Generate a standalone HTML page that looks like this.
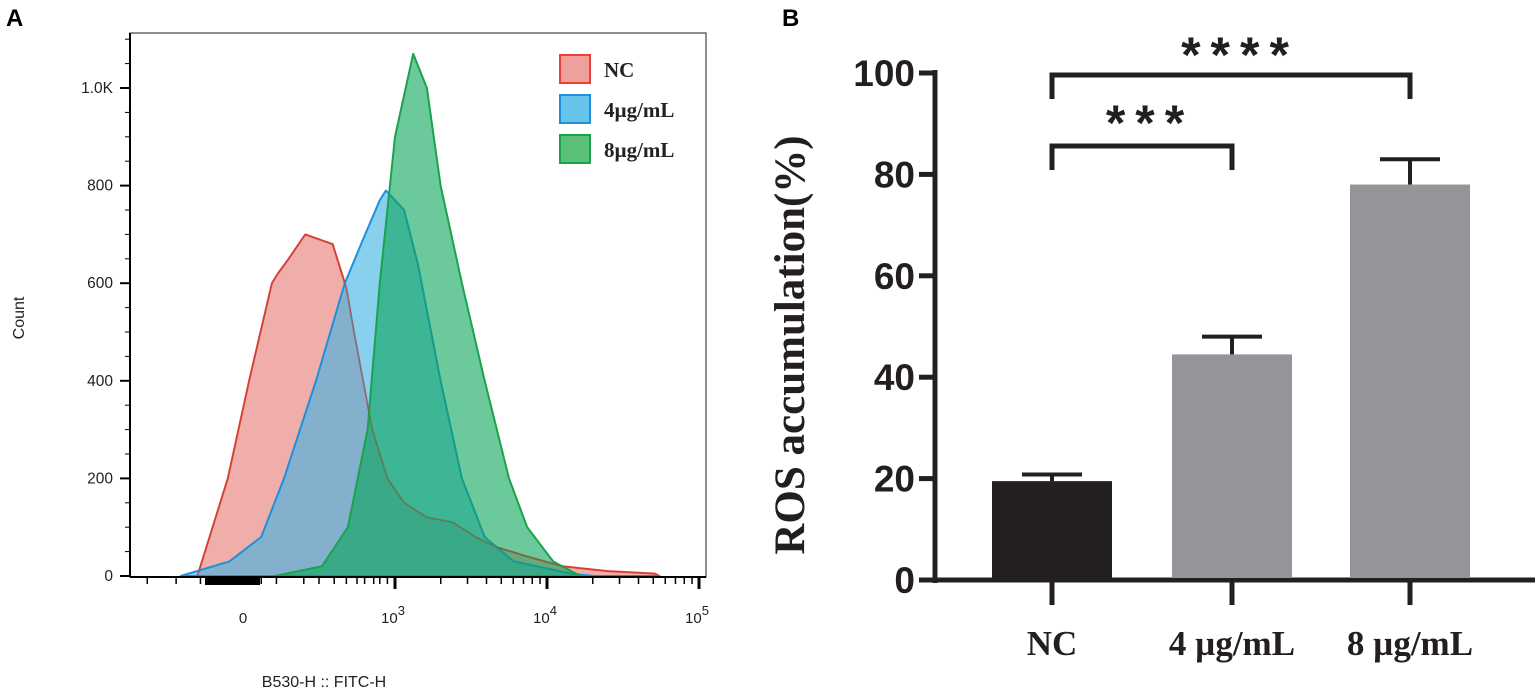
<!DOCTYPE html>
<html><head><meta charset="utf-8"><style>
html,body{margin:0;padding:0;background:#fff;}
svg{display:block;}
</style></head><body>
<svg id="fig" width="1535" height="695" viewBox="0 0 1535 695" xmlns="http://www.w3.org/2000/svg">
<text x="6" y="26" font-family="Liberation Sans, sans-serif" font-weight="bold" font-size="24">A</text>
<text x="782" y="26" font-family="Liberation Sans, sans-serif" font-weight="bold" font-size="24">B</text>
<g id="histo"></g>
<g id="bars"></g>
</svg>
<script>
// ---------- Panel A data (x in display decades: 2 = "0", 3 = 10^3 ...) ----------
const ncX = [1.70,1.90,2.04,2.19,2.23,2.30,2.41,2.59,2.68,2.73,2.79,2.85,2.95,3.06,3.21,3.38,3.53,3.66,3.87,4.10,4.40,4.71,4.74];
const ncY = [0,200,400,600,620,650,700,680,590,500,400,300,200,150,120,110,80,60,40,20,10,5,0];
const b4X = [1.59,1.91,2.12,2.27,2.48,2.67,2.79,2.90,2.94,3.06,3.15,3.30,3.44,3.59,3.78,4.16,4.31];
const b4Y = [0,30,80,200,400,600,690,770,790,750,640,400,200,80,30,5,0];
const g8X = [2.21,2.52,2.69,2.82,2.90,3.00,3.12,3.21,3.30,3.44,3.59,3.75,3.87,4.04,4.22];
const g8Y = [0,20,100,300,600,900,1070,1000,800,600,400,200,100,30,0];
const countTicks = [0,200,400,600,800,1000];
const countLabels = ["0","200","400","600","800","1.0K"];
const legendNames = ["NC","4\u00b5g/mL","8\u00b5g/mL"];

// ---------- Panel B data ----------
const categories = ["NC","4 \u00b5g/mL","8 \u00b5g/mL"];
const means = [19.5,44.5,78];
const errs = [1.3,3.5,5];
const barColors = ["#231f20","#939598","#939598"];
const yTicks = [0,20,40,60,80,100];

const NS="http://www.w3.org/2000/svg";
function mk(tag,attrs,parent,txt){const e=document.createElementNS(NS,tag);for(const k in attrs)e.setAttribute(k,attrs[k]);if(txt!==undefined)e.textContent=txt;parent.appendChild(e);return e;}

// ===== Panel A =====
const H=document.getElementById('histo');
const L=130,R=706,T=33,B=577;
const xs=u=>243+(u-2)*152;
const ys=c=>576-c*0.488;
function area(xa,ya,fill,stroke,name,fo){
  let d='M'+xs(xa[0])+','+ys(0);
  for(let i=0;i<xa.length;i++)d+=' L'+xs(xa[i]).toFixed(1)+','+ys(ya[i]).toFixed(1);
  d+=' L'+xs(xa[xa.length-1])+','+ys(0)+' Z';
  const p=mk('path',{d:d,fill:fill,'fill-opacity':fo,stroke:stroke,'stroke-width':2,'stroke-linejoin':'round'},H);
  
  
  return p;
}
area(ncX,ncY,"#e8837e","#ee3e3a","histogram-nc",0.65);
area(b4X,b4Y,"#3ab1e4","#1e90dc","histogram-4ug",0.6);
area(g8X,g8Y,"#0aa55a","#19a34a","histogram-8ug",0.6);
{let d='M'+xs(ncX[0])+','+ys(0);for(let i=0;i<ncX.length;i++)d+=' L'+xs(ncX[i]).toFixed(1)+','+ys(ncY[i]).toFixed(1);
const p=mk('path',{d:d,fill:'none',stroke:'#a0522d','stroke-width':1,'stroke-opacity':0.6},H);

}
{const f=mk('rect',{x:L,y:T,width:R-L,height:B-T,fill:'none',stroke:'#444','stroke-width':1.2},H);
}
mk('line',{x1:L,y1:T,x2:L,y2:B,stroke:'#000','stroke-width':2},H);
mk('line',{x1:L,y1:B,x2:R,y2:B,stroke:'#000','stroke-width':2},H);
for(let c=0;c<=1100;c+=50){const y=ys(c);const maj=(c%200===0);mk('line',{x1:L-(maj?10:5),y1:y,x2:L,y2:y,stroke:'#000','stroke-width':maj?2:1},H);}
countTicks.forEach((c,i)=>{const t=mk('text',{x:L-17,y:ys(c)+5,'text-anchor':'end','font-family':'Liberation Sans, sans-serif','font-size':15.5,fill:'#222'},H,countLabels[i]);
});
const xt=[1.37,1.56,1.72,1.82,1.88,1.94,2.0,2.06,2.12,2.22,2.4,2.5,2.6,2.68,2.75,2.8,2.86,2.9,2.95];
xt.forEach(u=>mk('line',{x1:xs(u),y1:B,x2:xs(u),y2:B+7,stroke:'#000','stroke-width':1.5},H));
[3,4,5].forEach(d=>{mk('line',{x1:xs(d),y1:B,x2:xs(d),y2:B+12,stroke:'#000','stroke-width':3},H);
 if(d<5)for(let k=2;k<10;k++){const u=d+Math.log10(k);mk('line',{x1:xs(u),y1:B,x2:xs(u),y2:B+7,stroke:'#000','stroke-width':1.5},H);}});
mk('rect',{x:205,y:B,width:55,height:8,fill:'#000'},H);
const xl=[[2,"0",""],[3,"10","3"],[4,"10","4"],[5,"10","5"]];
xl.forEach(a=>{const t=mk('text',{x:xs(a[0])-(a[2]?2:0),y:623,'text-anchor':'middle','font-family':'Liberation Sans, sans-serif','font-size':15,fill:'#222'},H,a[1]);

if(a[2])mk('tspan',{dy:-8,'font-size':13},t,a[2]);});
{const t=mk('text',{x:324,y:687,'text-anchor':'middle','font-family':'Liberation Sans, sans-serif','font-size':16,fill:'#222'},H,'B530-H :: FITC-H');
}
{const t=mk('text',{x:0,y:0,transform:'translate(24,318) rotate(-90)','text-anchor':'middle','font-family':'Liberation Sans, sans-serif','font-size':16,fill:'#222'},H,'Count');
}
const lf=["#eea09c","#68c3ea","#5cbf7a"],ls=["#ee3e3a","#1e90dc","#19a34a"];
legendNames.forEach((n,i)=>{const g=mk('g',{},H);

mk('rect',{x:560,y:55+i*40,width:30,height:28,fill:lf[i],stroke:ls[i],'stroke-width':2},g);
mk('text',{x:604,y:77+i*40,'font-family':'Liberation Serif, serif','font-weight':'bold','font-size':21,fill:'#222'},g,n);});

// ===== Panel B =====
const G=document.getElementById('bars');
const ax=935,y0=580,yTop=73;
const yb=v=>y0-(v/100)*(y0-yTop);
const cx=[1052,1232,1410];
mk('line',{x1:ax,y1:yTop-3,x2:ax,y2:y0+3,stroke:'#231f20','stroke-width':5},G);
mk('line',{x1:ax-3,y1:y0,x2:1535,y2:y0,stroke:'#231f20','stroke-width':5},G);
yTicks.forEach(v=>{mk('line',{x1:ax-16,y1:yb(v),x2:ax,y2:yb(v),stroke:'#231f20','stroke-width':5},G);
const t=mk('text',{x:ax-20,y:yb(v)+13,'text-anchor':'end','font-family':'Liberation Sans, sans-serif','font-weight':'bold','font-size':37,fill:'#231f20'},G,String(v));
});
categories.forEach((c,i)=>{
 const r=mk('rect',{x:cx[i]-60,y:yb(means[i]),width:120,height:y0-yb(means[i])-2,fill:barColors[i]},G);
 
 
 const top=yb(means[i]+errs[i]);
 const e=mk('path',{d:`M${cx[i]},${yb(means[i])} L${cx[i]},${top} M${cx[i]-30},${top} L${cx[i]+30},${top}`,stroke:'#231f20','stroke-width':4,fill:'none'},G);
 
 
 mk('line',{x1:cx[i],y1:y0,x2:cx[i],y2:y0+25,stroke:'#231f20','stroke-width':5},G);
 const t=mk('text',{x:cx[i],y:655,'text-anchor':'middle','font-family':'Liberation Serif, serif','font-weight':'bold','font-size':35,fill:'#231f20'},G,c);
 });
{const t=mk('text',{x:0,y:0,transform:'translate(804,345) rotate(-90)','text-anchor':'middle','font-family':'Liberation Serif, serif','font-weight':'bold','font-size':43,fill:'#231f20'},G,'ROS accumulation(%)');
}
function bracket(x1,x2,y,leg,stars,sx,sy,name){const g=mk('g',{},G);
 
 mk('path',{d:`M${x1},${y+leg} L${x1},${y} L${x2},${y} L${x2},${y+leg}`,stroke:'#231f20','stroke-width':5,fill:'none'},g);
 mk('text',{x:sx,y:sy,'text-anchor':'middle','font-family':'Liberation Sans, sans-serif','font-weight':'bold','font-size':50,'letter-spacing':10,fill:'#231f20'},g,stars);}
bracket(cx[0],cx[2],75,24,'****',1240,72,'sig-8ug');
bracket(cx[0],cx[1],146,24,'***',1150,140,'sig-4ug');
</script>
</body></html>
